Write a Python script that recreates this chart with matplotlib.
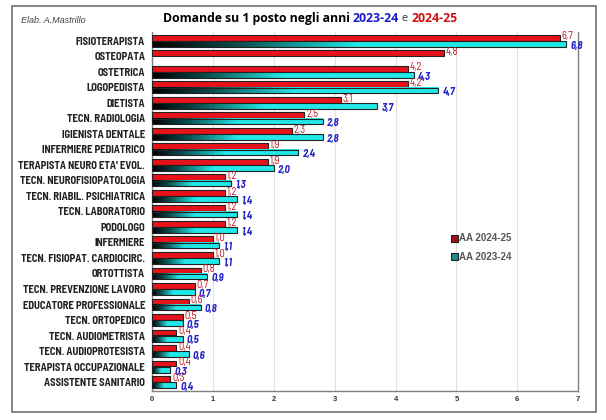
import matplotlib
matplotlib.use("Agg")
import matplotlib.pyplot as plt
import numpy as np
from matplotlib.colors import LinearSegmentedColormap
from matplotlib.patches import Rectangle
from matplotlib import font_manager as fm

categories = ["FISIOTERAPISTA", "OSTEOPATA", "OSTETRICA", "LOGOPEDISTA", "DIETISTA",
              "TECN. RADIOLOGIA", "IGIENISTA DENTALE", "INFERMIERE PEDIATRICO",
              "TERAPISTA NEURO ETA' EVOL.", "TECN. NEUROFISIOPATOLOGIA",
              "TECN. RIABIL. PSICHIATRICA", "TECN. LABORATORIO", "PODOLOGO",
              "INFERMIERE", "TECN. FISIOPAT. CARDIOCIRC.", "ORTOTTISTA",
              "TECN. PREVENZIONE LAVORO", "EDUCATORE PROFESSIONALE", "TECN. ORTOPEDICO",
              "TECN. AUDIOMETRISTA", "TECN. AUDIOPROTESISTA", "TERAPISTA OCCUPAZIONALE",
              "ASSISTENTE SANITARIO"]
aa_2024_25 = [6.7, 4.8, 4.2, 4.2, 3.1, 2.5, 2.3, 1.9, 1.9, 1.2, 1.2, 1.2, 1.2,
              1.0, 1.0, 0.8, 0.7, 0.6, 0.5, 0.4, 0.4, 0.4, 0.3]
aa_2023_24 = [6.8, None, 4.3, 4.7, 3.7, 2.8, 2.8, 2.4, 2.0, 1.3, 1.4, 1.4, 1.4,
              1.1, 1.1, 0.9, 0.7, 0.8, 0.5, 0.5, 0.6, 0.3, 0.4]
x_ticks = [0, 1, 2, 3, 4, 5, 6, 7]

RED = "#E8121A"
RED_TXT = "#C0141C"
BLUE_TXT = "#2424C8"
CYAN = "#22E8E8"

plt.rcParams['font.family'] = ['Liberation Sans', 'DejaVu Sans']
avail = {f.name for f in fm.fontManager.ttflist}
narrow_fam = [f for f in ["Barlow Semi Condensed"] if f in avail] + ['Liberation Sans', 'DejaVu Sans']

fig = plt.figure(figsize=(6.06, 4.2), dpi=100)
fig.patch.set_facecolor("white")
ax = fig.add_axes([0.251, 0.07, 0.703, 0.855])
renderer = fig.canvas.get_renderer()

# size category labels so the longest matches the reference width (~128 px)
probe = fig.text(0, 0, "TERAPISTA NEURO ETA' EVOL.", fontsize=10, fontweight="bold",
                 family=narrow_fam)
pw = probe.get_window_extent(renderer).width
probe.remove()
lab_size = min(8.0, 10 * 128 / pw)

n = len(categories)
y = np.arange(n)
h = 0.37
off = 0.2

cmap = LinearSegmentedColormap.from_list("g", [(0, "#000000"), (0.2, "#0A4A4A"),
                                               (0.5, CYAN), (1, CYAN)])
grad = np.linspace(0, 1, 256).reshape(1, -1)

ax.barh(y - off, aa_2024_25, height=h, color=RED, edgecolor="#222222", linewidth=0.8, zorder=3)
for i, v in enumerate(aa_2023_24):
    if v is None:
        continue
    yc = y[i] + off
    ax.imshow(grad, cmap=cmap, aspect="auto", extent=[0, v, yc + h / 2, yc - h / 2],
              zorder=3, interpolation="bilinear")
    ax.add_patch(Rectangle((0, yc - h / 2), v, h, fill=False, edgecolor="#222222",
                           linewidth=0.8, zorder=4))

for i in range(n):
    v = aa_2024_25[i]
    ax.text(v + 0.03, y[i] - off - 0.08, f"{v:.1f}".replace(".", ","), color=RED_TXT,
            fontsize=7.6, va="center", ha="left", zorder=5, family=narrow_fam)
    v2 = aa_2023_24[i]
    if v2 is not None:
        ax.text(v2 + 0.07, y[i] + off + 0.12, f"{v2:.1f}".replace(".", ","), color=BLUE_TXT,
                fontsize=7.6, va="center", ha="left", fontweight="bold", fontstyle="italic",
                zorder=5, family=narrow_fam)

ax.set_xlim(0, 7)
ax.set_ylim(n - 0.45, -0.6)
ax.set_xticks(x_ticks)
ax.set_xticklabels([str(t) for t in x_ticks], fontsize=5.5, fontweight="bold", color="#333333")
ax.set_yticks(y)
ax.set_yticklabels(categories, fontsize=lab_size, fontweight="bold", color="#222222",
                   family=narrow_fam)
ax.tick_params(axis="both", length=0, pad=4)
ax.tick_params(axis="y", pad=5)
ax.grid(axis="x", color="#E0E0E0", linewidth=0.8, zorder=0)
ax.set_axisbelow(True)
for s in ["left", "bottom", "right"]:
    ax.spines[s].set_color("#808080")
    ax.spines[s].set_linewidth(1.0)
ax.spines["top"].set_visible(False)

# Title, built piece by piece
tfam = ['Open Sans', 'DejaVu Sans']
parts = [("Domande su 1 posto negli anni ", "black", "bold", 8.8),
         ("2023-24", "#1A1AD0", "bold", 8.8),
         (" e ", "#333333", "normal", 8.0),
         ("2024-25", "#D01010", "bold", 8.8)]
texts = []
for s, c, w, fs in parts:
    t = fig.text(0, 0.957, s, color=c, fontweight=w, fontsize=fs, family=tfam,
                 ha="left", va="center")
    texts.append(t)
widths = [t.get_window_extent(renderer).width for t in texts]
total = sum(widths)
x0 = 310 - total / 2
for t, w in zip(texts, widths):
    t.set_x(x0 / 606)
    x0 += w

fig.text(0.035, 0.952, "Elab. A.Mastrillo", fontsize=6.5, fontstyle="italic",
         color="#444444", va="center")

# Legend
fig.patches.append(Rectangle((0.744, 0.425), 0.011, 0.016, transform=fig.transFigure,
                             facecolor="#A01018", edgecolor="#222222", linewidth=0.8))
fig.patches.append(Rectangle((0.744, 0.381), 0.011, 0.016, transform=fig.transFigure,
                             facecolor="#208888", edgecolor="#222222", linewidth=0.8))
fig.text(0.757, 0.433, "AA 2024-25", fontsize=7, fontweight="bold", color="#555555",
         va="center")
fig.text(0.757, 0.389, "AA 2023-24", fontsize=7, fontweight="bold", color="#555555",
         va="center")

# Outer frame
fig.patches.append(Rectangle((0.019, 0.02), 0.965, 0.965, transform=fig.transFigure,
                             fill=False, edgecolor="#707070", linewidth=1.2))

fig.savefig("out.png", dpi=100)
